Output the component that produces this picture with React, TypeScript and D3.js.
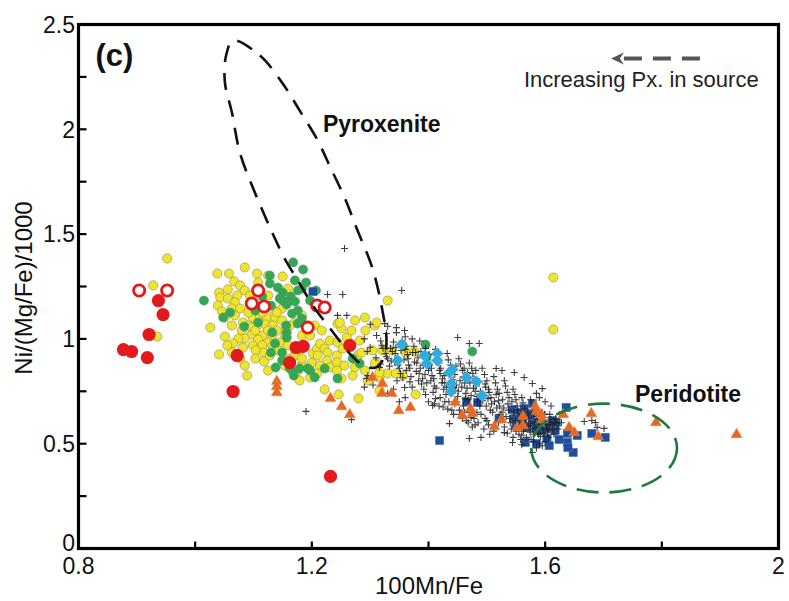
import React from 'react';
import * as d3 from 'd3';

const W = 789;
const H = 601;

const xMajorTicks = [0.8, 1.2, 1.6, 2.0];
const xTickLabels = ['0.8', '1.2', '1.6', '2'];
const xMinorTicks = [1.0, 1.4, 1.8];
const yMajorTicks = [0, 0.5, 1, 1.5, 2, 2.5];
const yTickLabels = ['0', '0.5', '1', '1.5', '2', '2.5'];
const yMinorTicks = [0.25, 0.75, 1.25, 1.75, 2.25];

// yellow circles
const yellowPts: [number, number][] = [
  [0.952, 1.384], [0.928, 1.255], [0.935, 1.011],
  [1.038, 1.312], [1.058, 1.312], [1.085, 1.341], [1.106, 1.312], [1.125, 1.302], [1.150, 1.298],
  [1.067, 1.274], [1.077, 1.255], [1.108, 1.269], [1.056, 1.236], [1.041, 1.221], [1.085, 1.231],
  [1.043, 1.198], [1.056, 1.193], [1.072, 1.207], [1.068, 1.174], [1.159, 1.240], [1.094, 1.207], [1.125, 1.207],
  [1.039, 1.159], [1.046, 1.131], [1.063, 1.145], [1.077, 1.145], [1.097, 1.145], [1.108, 1.145], [1.120, 1.145],
  [1.132, 1.145], [1.051, 1.102], [1.099, 1.102], [1.111, 1.102], [1.123, 1.102], [1.137, 1.102], [1.149, 1.145],
  [1.082, 1.078], [1.091, 1.064], [1.106, 1.064], [1.120, 1.069], [1.133, 1.064], [1.063, 1.064], [1.149, 1.088],
  [1.026, 1.054], [1.097, 1.054], [1.080, 1.040], [1.154, 1.040], [1.051, 1.011], [1.097, 1.021], [1.115, 1.016],
  [1.132, 1.016], [1.085, 1.002], [1.074, 1.002], [1.183, 1.016], [1.171, 1.078], [1.183, 1.112],
  [1.091, 1.126], [1.115, 1.126], [1.103, 1.040], [1.125, 1.040], [1.140, 1.040], [1.108, 0.997], [1.125, 0.983],
  [1.154, 1.011], [1.162, 1.064], [1.140, 1.126], [1.068, 1.112],
  [1.065, 0.978], [1.055, 0.969], [1.082, 0.959], [1.099, 0.969], [1.115, 0.969], [1.133, 0.969], [1.145, 0.983],
  [1.159, 0.969], [1.104, 0.945], [1.118, 0.935], [1.176, 0.935], [1.041, 0.926], [1.103, 0.906], [1.118, 0.892],
  [1.085, 0.873], [1.089, 0.825], [1.063, 0.935], [1.077, 0.906], [1.128, 0.921], [1.142, 0.945], [1.162, 0.906],
  [1.154, 0.873], [1.125, 0.849],
  [1.200, 0.887], [1.183, 0.873], [1.176, 0.849], [1.179, 0.802], [1.197, 0.816], [1.171, 0.921], [1.183, 0.906],
  [1.202, 0.930], [1.209, 0.954], [1.214, 0.978], [1.222, 0.954], [1.231, 0.992], [1.227, 0.935], [1.210, 0.921],
  [1.226, 0.897], [1.243, 0.921], [1.243, 0.887], [1.231, 0.864], [1.214, 0.873], [1.244, 0.983], [1.253, 0.954],
  [1.260, 1.007], [1.244, 1.073], [1.251, 1.050], [1.268, 1.040], [1.274, 1.088], [1.291, 1.102], [1.308, 1.064],
  [1.256, 0.873], [1.274, 0.864], [1.270, 0.825], [1.251, 0.811], [1.279, 0.921], [1.285, 0.935], [1.304, 0.945],
  [1.311, 0.887], [1.291, 0.849], [1.296, 0.802], [1.209, 0.835], [1.222, 0.759], [1.246, 0.735], [1.280, 0.716],
  [1.316, 0.754], [1.330, 0.835], [1.243, 0.849], [1.316, 0.816], [1.308, 0.883], [1.330, 1.183], [1.311, 1.078],
  [1.248, 1.078], [1.188, 0.969], [1.197, 1.016], [1.205, 1.064], [1.217, 1.040], [1.282, 0.992], [1.292, 1.040],
  [1.337, 0.945], [1.321, 0.945], [1.356, 0.969], [1.361, 0.935], [1.376, 0.940], [1.356, 0.825], [1.344, 0.835],
  [1.378, 0.735], [1.316, 0.840], [1.614, 1.293], [1.614, 1.045],
];

// green circles
const greenPts: [number, number][] = [
  [1.015, 1.183], [1.084, 1.059], [1.138, 0.864], [1.128, 1.302], [1.128, 1.264], [1.142, 1.245], [1.150, 1.221],
  [1.164, 1.202], [1.171, 1.178], [1.157, 1.164], [1.145, 1.193], [1.168, 1.365], [1.185, 1.331], [1.171, 1.279],
  [1.183, 1.240], [1.176, 1.135], [1.166, 1.121], [1.156, 1.064], [1.157, 1.031], [1.157, 1.007], [1.149, 0.935],
  [1.149, 0.897], [1.168, 0.840], [1.179, 0.859], [1.130, 0.935], [1.060, 1.126], [1.048, 1.102], [1.108, 1.078],
  [1.132, 1.031], [1.137, 0.978], [1.130, 1.159], [1.150, 1.183], [1.176, 1.231], [1.270, 0.906], [1.282, 0.883],
  [1.244, 0.811], [1.169, 0.825], [1.205, 0.816], [1.197, 0.849], [1.222, 0.859], [1.162, 0.859], [1.183, 1.097],
  [1.176, 1.073], [1.193, 0.859], [1.395, 0.973], [1.397, 0.916], [1.475, 0.940], [1.115, 1.202], [1.103, 1.135],
  [1.197, 1.183], [1.190, 1.269], [1.207, 1.231],
];

// red filled circles
const redFilledPts: [number, number][] = [
  [0.877, 0.949], [0.891, 0.940], [0.918, 0.911], [0.921, 1.021], [0.945, 1.116], [0.937, 1.183],
  [1.072, 0.921], [1.065, 0.749], [1.162, 0.887], [1.173, 0.959], [1.185, 0.964], [1.265, 0.969], [1.232, 0.344],
];

// red open circles
const redOpenPts: [number, number][] = [
  [0.904, 1.231], [0.952, 1.231], [1.108, 1.231], [1.097, 1.169], [1.118, 1.155], [1.209, 1.159], [1.222, 1.150],
  [1.193, 1.054],
];

// orange triangles
const orangeTriPts: [number, number][] = [
  [1.140, 0.797], [1.140, 0.773], [1.140, 0.744], [1.232, 0.716], [1.251, 0.677], [1.265, 0.639],
  [1.304, 0.816], [1.321, 0.787], [1.320, 0.740], [1.337, 0.740], [1.349, 0.658], [1.369, 0.673],
  [1.446, 0.697], [1.458, 0.635], [1.472, 0.668], [1.475, 0.644], [1.513, 0.582], [1.525, 0.615],
  [1.552, 0.577], [1.562, 0.630], [1.562, 0.587], [1.583, 0.677], [1.585, 0.654], [1.593, 0.639],
  [1.595, 0.615], [1.631, 0.639], [1.641, 0.577], [1.650, 0.553], [1.679, 0.644], [1.691, 0.534],
  [1.790, 0.601], [1.928, 0.544],
];

// blue squares
const blueSqPts: [number, number][] = [
  [1.202, 1.226], [1.419, 0.515], [1.465, 0.701], [1.484, 0.697], [1.521, 0.620], [1.544, 0.663], [1.552, 0.630],
  [1.556, 0.649], [1.564, 0.668], [1.573, 0.644], [1.578, 0.692], [1.547, 0.620], [1.561, 0.601], [1.578, 0.601],
  [1.569, 0.577], [1.585, 0.577], [1.593, 0.563], [1.607, 0.577], [1.612, 0.611], [1.617, 0.563], [1.619, 0.601],
  [1.603, 0.525], [1.624, 0.520], [1.638, 0.506], [1.648, 0.458], [1.636, 0.673], [1.638, 0.549], [1.655, 0.539],
  [1.680, 0.549], [1.703, 0.530], [1.566, 0.506], [1.585, 0.501], [1.607, 0.491], [1.639, 0.482], [1.550, 0.592],
  [1.576, 0.635],
];

// cyan diamonds
const cyanDiaPts: [number, number][] = [
  [1.347, 0.897], [1.354, 0.973], [1.393, 0.921], [1.397, 0.883], [1.415, 0.930], [1.415, 0.897], [1.436, 0.840],
  [1.441, 0.854], [1.439, 0.787], [1.439, 0.749], [1.465, 0.816], [1.482, 0.797], [1.492, 0.730],
];

// black crosses
const crossPts: [number, number][] = [
  [1.256, 1.431], [1.227, 1.212], [1.253, 1.212], [1.354, 1.231], [1.190, 0.654], [1.268, 0.615], [1.244, 1.112],
  [1.260, 1.112], [1.311, 1.016], [1.325, 1.073], [1.328, 1.026], [1.345, 1.054], [1.359, 1.040], [1.296, 0.825],
  [1.294, 0.811], [1.316, 0.864], [1.359, 0.768], [1.450, 1.007], [1.487, 0.978], [1.470, 0.978],
  [1.667, 0.606], [1.680, 0.611], [1.701, 0.573], [1.689, 0.578], [1.686, 0.601], [1.578, 0.458], [1.544, 0.506],
  [1.530, 0.553], [1.436, 0.596], [1.470, 0.525], [1.407, 0.682],
  [1.318, 0.990], [1.322, 0.955], [1.326, 0.930], [1.330, 0.905], [1.318, 0.880], [1.333, 0.870], [1.340, 0.985],
  [1.344, 0.960], [1.338, 0.940], [1.347, 0.912], [1.342, 0.890], [1.350, 0.860], [1.352, 0.835], [1.346, 0.800],
  [1.355, 0.990], [1.360, 0.950], [1.364, 0.925], [1.358, 0.900], [1.366, 0.875], [1.362, 0.850], [1.370, 0.820],
  [1.368, 0.795], [1.372, 0.770], [1.375, 0.965], [1.378, 0.935], [1.382, 0.910], [1.380, 0.885], [1.386, 0.860],
  [1.384, 0.835], [1.390, 0.810], [1.388, 0.785], [1.392, 0.760], [1.395, 0.955], [1.398, 0.900], [1.402, 0.875],
  [1.400, 0.850], [1.406, 0.825], [1.404, 0.800], [1.410, 0.775], [1.408, 0.745], [1.412, 0.950], [1.415, 0.920],
  [1.418, 0.885], [1.421, 0.860], [1.420, 0.835], [1.424, 0.810], [1.428, 0.790], [1.426, 0.760], [1.430, 0.735],
  [1.432, 0.930], [1.434, 0.900], [1.438, 0.875], [1.440, 0.860], [1.445, 0.830], [1.442, 0.805], [1.448, 0.780],
  [1.446, 0.755], [1.450, 0.725], [1.452, 0.905], [1.455, 0.880], [1.458, 0.850], [1.460, 0.820], [1.462, 0.790],
  [1.466, 0.765], [1.464, 0.740], [1.468, 0.710], [1.470, 0.885], [1.474, 0.860], [1.476, 0.835], [1.478, 0.810],
  [1.482, 0.775], [1.480, 0.750], [1.486, 0.725], [1.484, 0.700], [1.488, 0.680],
  [1.395, 0.735], [1.400, 0.700], [1.410, 0.690], [1.420, 0.720], [1.425, 0.675], [1.435, 0.700], [1.440, 0.660],
  [1.445, 0.690], [1.455, 0.640], [1.460, 0.680], [1.465, 0.610], [1.470, 0.650], [1.475, 0.580], [1.478, 0.620],
  [1.485, 0.600], [1.490, 0.640], [1.495, 0.570], [1.500, 0.610], [1.505, 0.545], [1.490, 0.530],
  [1.492, 0.860], [1.496, 0.830], [1.500, 0.800], [1.498, 0.770], [1.504, 0.745], [1.502, 0.715], [1.508, 0.690],
  [1.506, 0.660], [1.512, 0.820], [1.515, 0.790], [1.518, 0.760], [1.516, 0.735], [1.520, 0.705], [1.522, 0.680],
  [1.526, 0.650], [1.524, 0.625], [1.530, 0.800], [1.532, 0.775], [1.535, 0.745], [1.538, 0.720], [1.536, 0.690],
  [1.540, 0.600], [1.542, 0.570], [1.545, 0.760], [1.548, 0.735], [1.550, 0.710], [1.552, 0.680], [1.555, 0.545],
  [1.558, 0.520], [1.560, 0.720], [1.562, 0.695], [1.565, 0.665], [1.568, 0.530],
  [1.570, 0.650], [1.572, 0.620], [1.575, 0.595], [1.578, 0.570], [1.580, 0.545], [1.576, 0.520], [1.583, 0.660],
  [1.585, 0.630], [1.588, 0.605], [1.590, 0.580], [1.587, 0.555], [1.592, 0.535], [1.595, 0.650], [1.598, 0.625],
  [1.600, 0.600], [1.602, 0.575], [1.598, 0.550], [1.605, 0.530], [1.608, 0.640], [1.610, 0.615], [1.612, 0.590],
  [1.606, 0.565], [1.615, 0.545], [1.618, 0.620], [1.620, 0.595], [1.622, 0.570], [1.625, 0.640], [1.628, 0.600],
  [1.565, 0.600], [1.560, 0.575], [1.555, 0.620], [1.562, 0.640], [1.580, 0.510], [1.590, 0.500], [1.600, 0.510],
  [1.595, 0.490], [1.585, 0.480], [1.560, 0.495],
  [1.516, 0.859], [1.526, 0.849], [1.547, 0.840], [1.564, 0.816], [1.578, 0.787], [1.595, 0.763], [1.585, 0.740],
  [1.600, 0.700], [1.610, 0.680], [1.575, 0.710], [1.590, 0.720],
  [1.330, 1.060], [1.345, 1.030], [1.360, 1.010], [1.372, 1.000], [1.385, 0.990], [1.300, 1.070], [1.290, 1.000],
  [1.300, 0.960], [1.310, 0.910], [1.295, 0.940], [1.305, 0.780], [1.290, 0.770], [1.330, 0.740], [1.340, 0.760],
  [1.360, 0.720], [1.350, 0.700],
  [1.320, 0.970], [1.328, 0.915], [1.335, 0.955], [1.336, 0.895], [1.343, 0.930], [1.348, 0.875], [1.353, 0.945],
  [1.356, 0.815], [1.362, 0.965], [1.365, 0.905], [1.368, 0.860], [1.373, 0.935], [1.376, 0.890], [1.379, 0.845],
  [1.383, 0.800], [1.387, 0.940], [1.391, 0.875], [1.394, 0.830], [1.397, 0.790], [1.401, 0.925], [1.405, 0.860],
  [1.409, 0.810], [1.413, 0.765], [1.416, 0.900], [1.419, 0.850], [1.423, 0.790], [1.427, 0.825], [1.431, 0.770],
  [1.436, 0.845], [1.439, 0.800], [1.443, 0.770], [1.447, 0.870], [1.451, 0.750], [1.454, 0.800], [1.457, 0.770],
  [1.461, 0.860], [1.463, 0.715], [1.467, 0.840], [1.471, 0.790], [1.473, 0.730], [1.477, 0.765], [1.481, 0.850],
  [1.483, 0.725], [1.487, 0.795], [1.489, 0.750], [1.493, 0.705], [1.497, 0.785], [1.499, 0.680], [1.503, 0.760],
  [1.507, 0.720], [1.510, 0.650], [1.513, 0.700], [1.517, 0.670], [1.521, 0.740], [1.523, 0.640], [1.527, 0.710],
  [1.529, 0.670], [1.533, 0.630], [1.537, 0.660], [1.539, 0.620], [1.543, 0.700], [1.546, 0.650], [1.549, 0.610],
  [1.553, 0.660], [1.557, 0.590], [1.559, 0.640], [1.563, 0.560], [1.567, 0.615], [1.571, 0.585], [1.574, 0.555],
  [1.577, 0.640], [1.581, 0.600], [1.584, 0.575], [1.587, 0.615], [1.589, 0.545], [1.593, 0.600], [1.596, 0.570],
  [1.599, 0.640], [1.603, 0.590], [1.604, 0.555], [1.609, 0.600], [1.613, 0.570], [1.616, 0.600], [1.412, 0.715],
  [1.418, 0.680], [1.428, 0.700], [1.433, 0.665], [1.443, 0.640], [1.448, 0.700], [1.453, 0.660], [1.458, 0.620],
  [1.462, 0.650], [1.468, 0.600], [1.473, 0.625], [1.480, 0.590], [1.483, 0.650], [1.497, 0.620], [1.503, 0.590],
  [1.512, 0.560], [1.520, 0.600], [1.530, 0.580], [1.535, 0.550], [1.545, 0.530], [1.550, 0.560], [1.560, 0.540],
];

// reference field outlines (data units)
const pyroxeniteOutline: [number, number][] = [
  [1.065, 2.424], [1.111, 2.352], [1.150, 2.219], [1.179, 2.090], [1.210, 1.947], [1.231, 1.823], [1.256, 1.675],
  [1.277, 1.527], [1.304, 1.336], [1.321, 1.136], [1.328, 0.985], [1.323, 0.906], [1.308, 0.862], [1.285, 0.880],
  [1.265, 0.930], [1.234, 1.040], [1.202, 1.159], [1.176, 1.279], [1.154, 1.380], [1.132, 1.508], [1.103, 1.694],
  [1.077, 1.885], [1.063, 2.080], [1.051, 2.223], [1.053, 2.352],
];
const peridotiteEllipse = { cx: 1.701, cy: 0.479, rx: 0.125, ry: 0.212 };

const x = d3.scaleLinear().domain([0.8, 2.0]).range([78.5, 778.5]);
const y = d3.scaleLinear().domain([0, 2.5]).range([548.5, 24.5]);

const FONT = 'Liberation Sans, Arial, Helvetica, sans-serif';

export default function App() {
  const pyroPath = d3
    .line<[number, number]>()
    .x((d) => x(d[0]))
    .y((d) => y(d[1]))
    .curve(d3.curveCatmullRomClosed.alpha(0.5))(pyroxeniteOutline) as string;

  const tri = d3.symbol(d3.symbolTriangle, 52)() as string;

  return (
    <svg
      width={W}
      height={H}
      style={{ position: 'absolute', left: 0, top: 0, background: '#fff' }}
      fontFamily={FONT}
    >
      <rect x={0} y={0} width={W} height={H} fill="#fff" />

      {/* points */}
      <g>
        {yellowPts.map((d, i) => (
          <circle key={'y' + i} cx={x(d[0])} cy={y(d[1])} r={4.6} fill="#f0e52c" stroke="#8c8a5a" strokeWidth={0.6} />
        ))}
        {greenPts.map((d, i) => (
          <circle key={'g' + i} cx={x(d[0])} cy={y(d[1])} r={4.6} fill="#33a853" stroke="#5d8f6a" strokeWidth={0.5} />
        ))}
        {blueSqPts.map((d, i) => (
          <rect key={'b' + i} x={x(d[0]) - 4.2} y={y(d[1]) - 4.2} width={8.4} height={8.4} fill="#1e4e9e" stroke="#6a7ea8" strokeWidth={0.5} />
        ))}
        {crossPts.map((d, i) => (
          <path
            key={'c' + i}
            d={`M${x(d[0]) - 3.5},${y(d[1])}h7M${x(d[0])},${y(d[1]) - 3.5}v7`}
            stroke="#1e1e1e"
            strokeOpacity={0.85}
            strokeWidth={1.1}
            fill="none"
          />
        ))}
        {cyanDiaPts.map((d, i) => (
          <path
            key={'d' + i}
            transform={`translate(${x(d[0])},${y(d[1])})`}
            d="M0,-6L6,0L0,6L-6,0Z"
            fill="#2aaee2"
            stroke="#7fb8d0"
            strokeWidth={0.5}
          />
        ))}
        {orangeTriPts.map((d, i) => (
          <path key={'t' + i} transform={`translate(${x(d[0])},${y(d[1])})`} d={tri} fill="#ec661c" stroke="#c98d6a" strokeWidth={0.5} />
        ))}
        {redFilledPts.map((d, i) => (
          <circle key={'r' + i} cx={x(d[0])} cy={y(d[1])} r={6.6} fill="#e31a1c" />
        ))}
        {redOpenPts.map((d, i) => (
          <circle key={'o' + i} cx={x(d[0])} cy={y(d[1])} r={5.6} fill="#fff" stroke="#e31a1c" strokeWidth={2.8} />
        ))}
      </g>

      {/* fields */}
      <path d={pyroPath} fill="none" stroke="#111" strokeWidth={2.6} strokeDasharray="17 11" />
      <ellipse
        cx={x(peridotiteEllipse.cx)}
        cy={y(peridotiteEllipse.cy)}
        rx={x(peridotiteEllipse.cx + peridotiteEllipse.rx) - x(peridotiteEllipse.cx)}
        ry={y(peridotiteEllipse.cy - peridotiteEllipse.ry) - y(peridotiteEllipse.cy)}
        fill="none"
        stroke="#1e7a3c"
        strokeWidth={2.6}
        strokeDasharray="22 11"
      />

      {/* frame */}
      <rect x={x(0.8)} y={y(2.5)} width={x(2.0) - x(0.8)} height={y(0) - y(2.5)} fill="none" stroke="#000" strokeWidth={3.2} />

      {/* ticks */}
      {[...xMajorTicks, ...xMinorTicks].map((t, i) => (
        <line key={'xt' + i} x1={x(t)} x2={x(t)} y1={y(0)} y2={y(0) - 7} stroke="#000" strokeWidth={2.2} />
      ))}
      {[...yMajorTicks, ...yMinorTicks].map((t, i) => (
        <line key={'yt' + i} x1={x(0.8)} x2={x(0.8) + 8} y1={y(t)} y2={y(t)} stroke="#000" strokeWidth={2.2} />
      ))}
      {xMajorTicks.map((t, i) => (
        <text key={'xl' + i} x={x(t)} y={574} textAnchor="middle" fontSize={23} fill="#111">
          {xTickLabels[i]}
        </text>
      ))}
      {yMajorTicks.map((t, i) => (
        <text key={'yl' + i} x={75} y={y(t) - (t === 0 ? 6 : 0)} dy="0.36em" textAnchor="end" fontSize={23} fill="#111">
          {yTickLabels[i]}
        </text>
      ))}

      {/* axis titles */}
      <text x={429} y={594} textAnchor="middle" fontSize={24} fill="#111">
        100Mn/Fe
      </text>
      <text transform="translate(32,288) rotate(-90)" textAnchor="middle" fontSize={24} fill="#111">
        Ni/(Mg/Fe)/1000
      </text>

      {/* annotations */}
      <text x={x(0.829)} y={y(2.304)} fontSize={31} fontWeight="bold" fill="#111">
        (c)
      </text>
      <text x={x(1.219)} y={y(1.985)} fontSize={23} fontWeight="bold" fill="#111">
        Pyroxenite
      </text>
      <text x={x(1.754)} y={y(0.697)} fontSize={23} fontWeight="bold" fill="#111">
        Peridotite
      </text>
      <text x={x(1.966)} y={y(2.204)} textAnchor="end" fontSize={22} fill="#222">
        Increasing Px. in source
      </text>
      <line x1={x(1.735)} x2={x(1.877)} y1={y(2.338)} y2={y(2.338)} stroke="#555" strokeWidth={4} strokeDasharray="18 11" />
      <path
        d={`M${x(1.735)},${y(2.338) - 6}L${x(1.713)},${y(2.338)}L${x(1.735)},${y(2.338) + 6}L${x(1.728)},${y(2.338)}Z`}
        fill="#555"
      />
    </svg>
  );
}
